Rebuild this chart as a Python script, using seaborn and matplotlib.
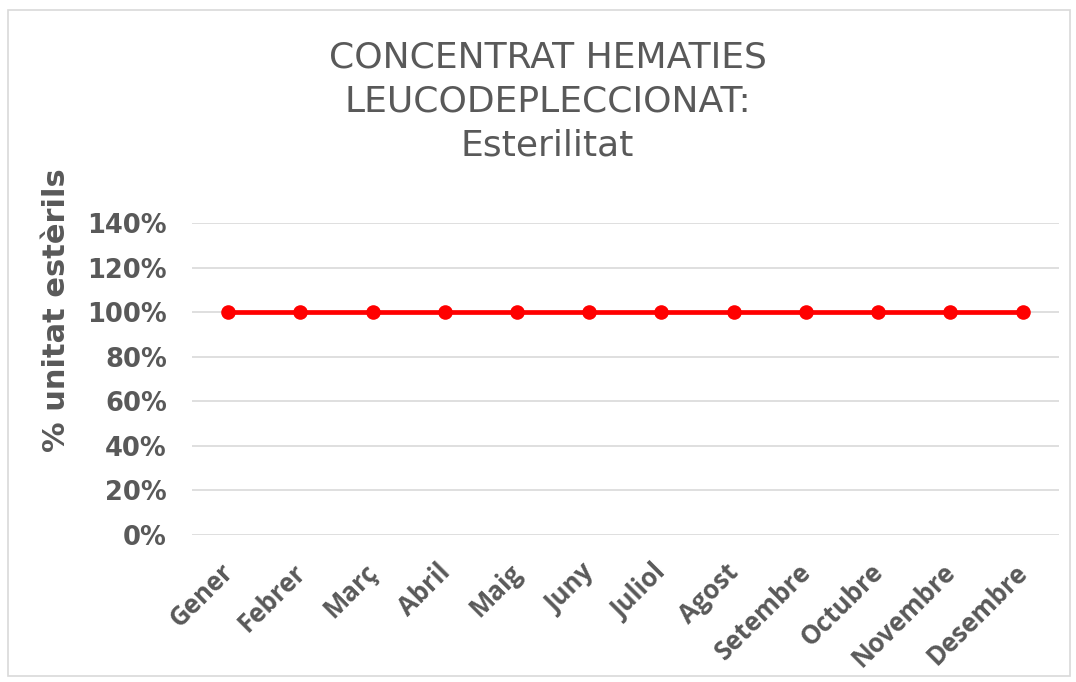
import matplotlib
matplotlib.use('Agg')
import matplotlib.pyplot as plt
import matplotlib.transforms as mtransforms
import numpy as np
import pandas as pd
import seaborn as sns
from matplotlib.patches import Rectangle
from matplotlib.ticker import PercentFormatter

MONTHS = ['Gener', 'Febrer', 'Març', 'Abril', 'Maig', 'Juny', 'Juliol', 'Agost', 'Setembre', 'Octubre',
          'Novembre', 'Desembre']
STERILE = [1.0, 1.0, 1.0, 1.0, 1.0, 1.0, 1.0, 1.0, 1.0, 1.0, 1.0, 1.0]
Y_TICKS = [0.0, 0.2, 0.4, 0.6, 0.8, 1.0, 1.2, 1.4]
TITLE = 'CONCENTRAT HEMATIES\nLEUCODEPLECCIONAT:\nEsterilitat'
Y_LABEL = '% unitat estèrils'
GREY = '#595959'


def main():
    sns.set_style('white')
    plt.rcParams['font.family'] = ['DejaVu Sans']
    df = pd.DataFrame({'month': MONTHS, 'value': STERILE})

    fig = plt.figure(figsize=(10.76, 6.82), dpi=100)
    ax = fig.add_axes([0.1784, 0.2155, 0.8056, 0.4575])
    fig.patches.append(Rectangle((8 / 1076, 1 - 676 / 682), 1062 / 1076, 666 / 682, transform=fig.transFigure,
                                 fill=False, edgecolor='#d9d9d9', linewidth=1.2))

    sns.lineplot(ax=ax, data=df, x='month', y='value', sort=False, color='#ff0000', linewidth=3.4, marker='o',
                 markersize=10.5, markeredgewidth=0, zorder=3)

    ax.set_xlim(-0.5, len(MONTHS) - 0.5)
    ax.set_ylim(0, 1.4)
    ax.set_yticks(Y_TICKS)
    ax.yaxis.set_major_formatter(PercentFormatter(1.0, decimals=0))
    ax.grid(axis='y', color='#d9d9d9', linewidth=1.2)
    ax.grid(axis='x', visible=False)
    for s in ax.spines.values():
        s.set_visible(False)
    ax.tick_params(axis='both', length=0)
    ax.tick_params(axis='y', pad=18, labelsize=18.5, labelcolor=GREY)
    for lab in ax.get_yticklabels():
        lab.set_fontweight('bold')
    ax.set_xticks(range(len(MONTHS)))
    ax.set_xticklabels(MONTHS, rotation=45, ha='right', rotation_mode='anchor', fontsize=18.5, color=GREY,
                       fontweight='bold', family='Open Sans')
    ax.tick_params(axis='x', pad=17)
    shift = mtransforms.ScaledTranslation(-6 / 72, 0, fig.dpi_scale_trans)
    for lab in ax.get_xticklabels():
        lab.set_transform(lab.get_transform() + shift)

    ax.set_xlabel('')
    ax.set_ylabel(Y_LABEL, fontsize=22, fontweight='bold', color=GREY)
    ax.yaxis.set_label_coords(-0.14, 0.72)
    fig.text(0.509, 0.94, TITLE, ha='center', va='top', fontsize=26, color=GREY, linespacing=1.36)

    fig.savefig('out.png', dpi=100)


if __name__ == '__main__':
    main()
